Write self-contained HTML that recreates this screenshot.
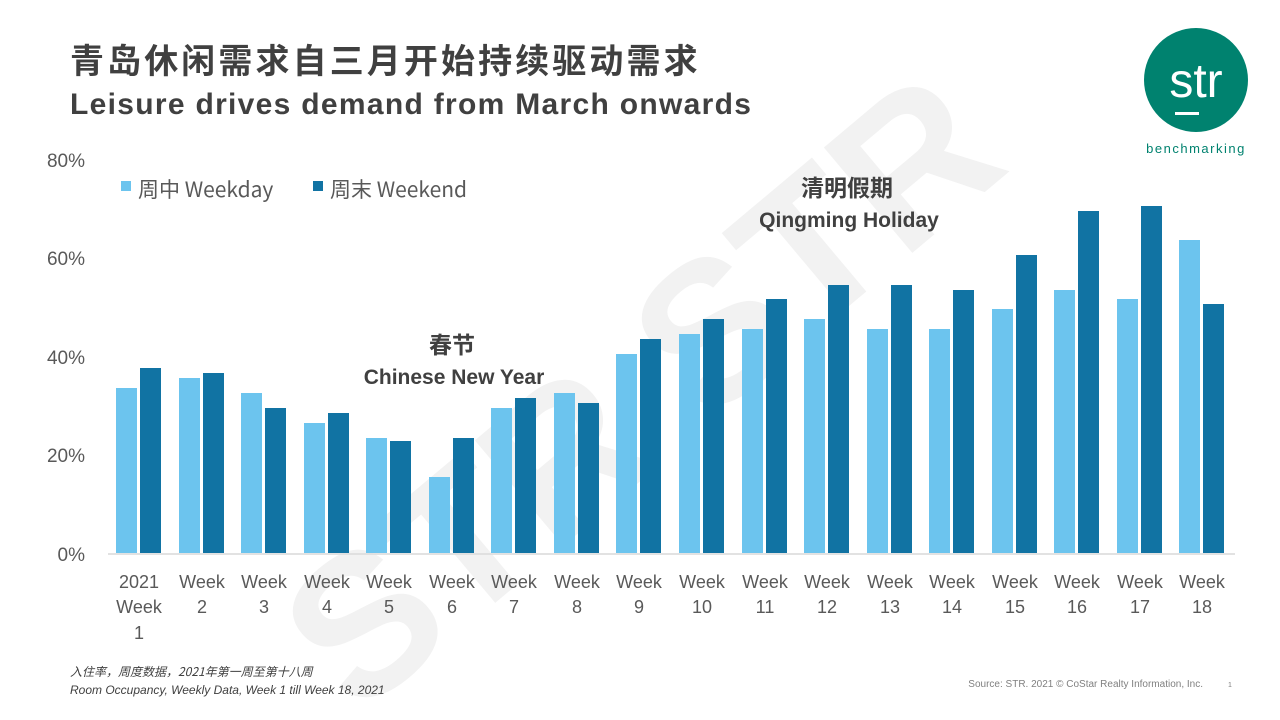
<!DOCTYPE html>
<html><head><meta charset="utf-8"><style>
html,body{margin:0;padding:0;background:#fff;}
body{width:1280px;height:720px;overflow:hidden;position:relative;}
svg{position:absolute;left:0;top:0;}
text{font-family:"Liberation Sans","Noto Sans CJK SC",sans-serif;}
</style></head><body>
<svg width="1280" height="720" viewBox="0 0 1280 720">
<g transform="translate(640,390) rotate(-40)">
<text x="0" y="70" text-anchor="middle" font-size="200" font-weight="bold" fill="#f2f2f2">STR  STR</text>
</g>
<text x="70" y="73" font-size="34" font-weight="bold" fill="#404040" letter-spacing="3.1" style='font-family:"Noto Sans CJK SC",sans-serif'>青岛休闲需求自三月开始持续驱动需求</text>
<text x="70" y="114" font-size="30" font-weight="bold" fill="#404040" letter-spacing="1.3">Leisure drives demand from March onwards</text>
<circle cx="1196" cy="80" r="52" fill="#00826f"/>
<text x="1196" y="97" text-anchor="middle" font-size="48" fill="#fff">str</text>
<rect x="1175" y="112" width="24" height="3" fill="#fff"/>
<text x="1196" y="153" text-anchor="middle" font-size="13" fill="#00826f" letter-spacing="1.5">benchmarking</text>
<g font-size="19" fill="#595959" text-anchor="end">
<text x="85" y="167">80%</text><text x="85" y="265">60%</text><text x="85" y="364">40%</text><text x="85" y="462">20%</text><text x="85" y="561">0%</text>
</g>
<line x1="108" y1="554" x2="1235" y2="554" stroke="#d9d9d9" stroke-width="1.5"/>
<rect x="121" y="181" width="10" height="10" fill="#6cc4ee"/>
<text x="138" y="197" font-size="21" fill="#595959" style='font-family:"Noto Sans CJK SC","Liberation Sans",sans-serif'>周中 Weekday</text>
<rect x="313" y="181" width="10" height="10" fill="#1173a3"/>
<text x="330" y="197" font-size="21" fill="#595959" style='font-family:"Noto Sans CJK SC","Liberation Sans",sans-serif'>周末 Weekend</text>
<g font-weight="bold" fill="#404040" text-anchor="middle">
<text x="452" y="353" font-size="23" style='font-family:"Noto Sans CJK SC",sans-serif'>春节</text>
<text x="454" y="384" font-size="21">Chinese New Year</text>
<text x="847" y="196" font-size="23" style='font-family:"Noto Sans CJK SC",sans-serif'>清明假期</text>
<text x="849" y="227" font-size="21">Qingming Holiday</text>
</g>
<g fill="#6cc4ee">
<rect x="116" y="388" width="21" height="165"/><rect x="179" y="378" width="21" height="175"/><rect x="241" y="393" width="21" height="160"/><rect x="304" y="423" width="21" height="130"/><rect x="366" y="438" width="21" height="115"/><rect x="429" y="477" width="21" height="76"/><rect x="491" y="408" width="21" height="145"/><rect x="554" y="393" width="21" height="160"/><rect x="616" y="354" width="21" height="199"/><rect x="679" y="334" width="21" height="219"/><rect x="742" y="329" width="21" height="224"/><rect x="804" y="319" width="21" height="234"/><rect x="867" y="329" width="21" height="224"/><rect x="929" y="329" width="21" height="224"/><rect x="992" y="309" width="21" height="244"/><rect x="1054" y="290" width="21" height="263"/><rect x="1117" y="299" width="21" height="254"/><rect x="1179" y="240" width="21" height="313"/>
</g>
<g fill="#1173a3">
<rect x="140" y="368" width="21" height="185"/><rect x="203" y="373" width="21" height="180"/><rect x="265" y="408" width="21" height="145"/><rect x="328" y="413" width="21" height="140"/><rect x="390" y="441" width="21" height="112"/><rect x="453" y="438" width="21" height="115"/><rect x="515" y="398" width="21" height="155"/><rect x="578" y="403" width="21" height="150"/><rect x="640" y="339" width="21" height="214"/><rect x="703" y="319" width="21" height="234"/><rect x="766" y="299" width="21" height="254"/><rect x="828" y="285" width="21" height="268"/><rect x="891" y="285" width="21" height="268"/><rect x="953" y="290" width="21" height="263"/><rect x="1016" y="255" width="21" height="298"/><rect x="1078" y="211" width="21" height="342"/><rect x="1141" y="206" width="21" height="347"/><rect x="1203" y="304" width="21" height="249"/>
</g>
<g font-size="18" fill="#595959" text-anchor="middle">
<text x="139" y="588">2021</text><text x="139" y="613">Week</text><text x="139" y="639">1</text>
<text x="202" y="588">Week</text><text x="202" y="613">2</text>
<text x="264" y="588">Week</text><text x="264" y="613">3</text>
<text x="327" y="588">Week</text><text x="327" y="613">4</text>
<text x="389" y="588">Week</text><text x="389" y="613">5</text>
<text x="452" y="588">Week</text><text x="452" y="613">6</text>
<text x="514" y="588">Week</text><text x="514" y="613">7</text>
<text x="577" y="588">Week</text><text x="577" y="613">8</text>
<text x="639" y="588">Week</text><text x="639" y="613">9</text>
<text x="702" y="588">Week</text><text x="702" y="613">10</text>
<text x="765" y="588">Week</text><text x="765" y="613">11</text>
<text x="827" y="588">Week</text><text x="827" y="613">12</text>
<text x="890" y="588">Week</text><text x="890" y="613">13</text>
<text x="952" y="588">Week</text><text x="952" y="613">14</text>
<text x="1015" y="588">Week</text><text x="1015" y="613">15</text>
<text x="1077" y="588">Week</text><text x="1077" y="613">16</text>
<text x="1140" y="588">Week</text><text x="1140" y="613">17</text>
<text x="1202" y="588">Week</text><text x="1202" y="613">18</text>
</g>
<text x="70" y="676" font-size="12" font-style="italic" fill="#404040" style='font-family:"Noto Sans CJK SC","Liberation Sans",sans-serif'>入住率，周度数据，2021年第一周至第十八周</text>
<text x="70" y="694" font-size="12" font-style="italic" fill="#404040">Room Occupancy, Weekly Data, Week 1 till Week 18, 2021</text>
<text x="1203" y="687" font-size="10" fill="#808080" text-anchor="end">Source: STR. 2021 © CoStar Realty Information, Inc.</text>
<text x="1228" y="687" font-size="7" fill="#808080">1</text>
</svg>
</body></html>
